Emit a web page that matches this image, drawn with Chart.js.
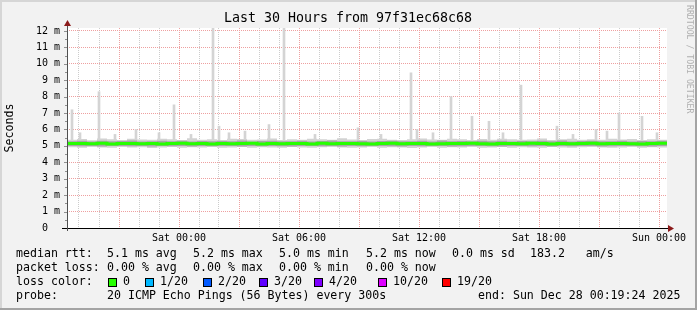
<!DOCTYPE html>
<html>
<head>
<meta charset="utf-8">
<script src="https://cdn.jsdelivr.net/npm/chart.js@4"></script>
<style>
  html, body { margin: 0; padding: 0; background: #f2f2f2; }
</style>
</head>
<body>
<canvas id="smoke-chart" width="697" height="310"></canvas>
<script>
const chartEl = document.getElementById('smoke-chart');

// x values are hours relative to Sat 00:00, one sample every 30 min
const startHour = -5.6;
const stepHours = 0.5;

// median rtt in ms
const medianRtt = [
    5.15, 5.14, 5.13, 5.16, 5.12, 5.15, 5.14, 5.13, 5.15, 5.12,
    5.14, 5.16, 5.13, 5.15, 5.12, 5.14, 5.13, 5.15, 5.16, 5.12,
    5.14, 5.13, 5.15, 5.14, 5.12, 5.16, 5.13, 5.14, 5.15, 5.13,
    5.12, 5.14, 5.16, 5.13, 5.15, 5.14, 5.12, 5.13, 5.15, 5.14,
    5.16, 5.13, 5.12, 5.15, 5.14, 5.13, 5.16, 5.14, 5.12, 5.15,
    5.13, 5.14, 5.16, 5.13, 5.15, 5.14, 5.13, 5.12, 5.15, 5.16, 5.17
];
// outer smoke (light grey)
const smokeHigh = [
    5.38, 5.42, 5.35, 5.45, 5.40, 5.36, 5.44, 5.39, 5.37, 5.43,
    5.41, 5.36, 5.46, 5.38, 5.40, 5.35, 5.44, 5.42, 5.37, 5.39,
    5.45, 5.36, 5.41, 5.38, 5.43, 5.40, 5.37, 5.46, 5.39, 5.35,
    5.42, 5.44, 5.38, 5.36, 5.41, 5.45, 5.39, 5.37, 5.43, 5.40,
    5.36, 5.42, 5.38, 5.44, 5.41, 5.37, 5.39, 5.45, 5.36, 5.40,
    5.43, 5.38, 5.41, 5.37, 5.44, 5.39, 5.42, 5.36, 5.40, 5.38, 5.41
];
const smokeLow = [
    4.92, 4.89, 4.94, 4.91, 4.88, 4.93, 4.90, 4.92, 4.87, 4.91,
    4.93, 4.89, 4.92, 4.90, 4.94, 4.88, 4.91, 4.93, 4.89, 4.92,
    4.90, 4.88, 4.93, 4.91, 4.89, 4.92, 4.94, 4.90, 4.88, 4.91,
    4.93, 4.89, 4.92, 4.90, 4.87, 4.91, 4.93, 4.89, 4.92, 4.90,
    4.94, 4.88, 4.91, 4.93, 4.89, 4.92, 4.90, 4.88, 4.93, 4.91,
    4.89, 4.92, 4.94, 4.90, 4.88, 4.91, 4.93, 4.89, 4.92, 4.90, 4.93
];
// inner smoke (darker grey)
const coreHigh = [
    5.29, 5.31, 5.27, 5.32, 5.28, 5.30, 5.33, 5.27, 5.29, 5.31,
    5.28, 5.32, 5.27, 5.30, 5.29, 5.31, 5.28, 5.33, 5.27, 5.30,
    5.32, 5.28, 5.29, 5.31, 5.27, 5.30, 5.33, 5.28, 5.29, 5.31,
    5.27, 5.30, 5.32, 5.28, 5.29, 5.31, 5.27, 5.33, 5.28, 5.30,
    5.29, 5.31, 5.28, 5.32, 5.27, 5.30, 5.29, 5.31, 5.28, 5.33,
    5.27, 5.30, 5.32, 5.28, 5.29, 5.31, 5.27, 5.30, 5.29, 5.31, 5.28
];
const coreLow = [
    4.99, 4.98, 5.00, 4.97, 4.99, 5.00, 4.98, 4.99, 4.97, 5.00,
    4.98, 4.99, 4.97, 5.00, 4.98, 4.99, 5.00, 4.97, 4.99, 4.98,
    5.00, 4.98, 4.97, 4.99, 5.00, 4.98, 4.99, 4.97, 5.00, 4.98,
    4.99, 5.00, 4.98, 4.97, 4.99, 4.98, 5.00, 4.99, 4.97, 4.98,
    5.00, 4.99, 4.98, 4.97, 5.00, 4.99, 4.98, 5.00, 4.97, 4.99,
    4.98, 5.00, 4.99, 4.97, 4.98, 5.00, 4.99, 4.98, 4.97, 4.99, 5.00
];

// single ping spikes: hour and top in ms
const spikeHours = [-5.35, -4.95, -4.0, -3.2, -2.15, -1.0, -0.25, 0.6, 1.7, 2.0, 2.5, 3.3, 4.5, 5.25, 6.8, 8.95,
    10.1, 11.6, 11.9, 12.7, 13.6, 14.65, 15.5, 16.2, 17.1, 18.9, 19.7, 20.85, 21.4, 22.0, 23.15, 23.9];
const spikeTops = [7.2, 5.8, 8.3, 5.7, 6.0, 5.8, 7.5, 5.7, 12.3, 6.2, 5.8, 5.9, 6.3, 12.3, 5.7, 6.1,
    5.7, 9.45, 6.0, 5.8, 8.0, 6.8, 6.5, 5.8, 8.7, 6.2, 5.7, 6.0, 5.9, 7.0, 6.8, 5.8];
const spikeBase = 5.3;

const dayLabels = { 0: 'Sat 00:00', 6: 'Sat 06:00', 12: 'Sat 12:00', 18: 'Sat 18:00', 24: 'Sun 00:00' };
const hourTicks = [];
for (let h = -5; h <= 24; h++) hourTicks.push(h);
const msTicks = [];
for (let v = 0; v <= 12; v += 0.5) msTicks.push(v);

const titleText = 'Last 30 Hours from 97f31ec68c68';
const rttStats = ['5.1 ms avg', '5.2 ms max', '5.0 ms min', '5.2 ms now', '0.0 ms sd', '183.2   am/s'];
const lossStats = ['0.00 % avg', '0.00 % max', '0.00 % min', '0.00 % now'];
const lossLabels = ['0', '1/20', '2/20', '3/20', '4/20', '10/20', '19/20'];
const lossColors = ['#26ff00', '#00b8ff', '#0059ff', '#5e00ff', '#7e00ff', '#dd00ff', '#ff0000'];
const probeText = '20 ICMP Echo Pings (56 Bytes) every 300s';
const endText = 'end: Sun Dec 28 00:19:24 2025';

const sampleHours = medianRtt.map((_, i) => startHour + i * stepHours);
const toPoints = arr => arr.map((v, i) => ({ x: sampleHours[i], y: v }));

const MONO = '"DejaVu Sans Mono", monospace';
const RED_GRID = '#eea0a0';
const GREY_GRID = '#cccccc';

const rrdFrame = {
    id: 'rrdFrame',
    beforeDraw(chart) {
        const ctx = chart.ctx;
        const a = chart.chartArea;
        ctx.save();
        ctx.fillStyle = '#f2f2f2';
        ctx.fillRect(0, 0, chart.width, chart.height);
        // 3d border
        ctx.fillStyle = '#d6d6d6';
        ctx.fillRect(0, 0, chart.width, 2);
        ctx.fillRect(0, 0, 2, chart.height);
        ctx.fillStyle = '#a4a4a4';
        ctx.fillRect(0, chart.height - 2, chart.width, 2);
        ctx.fillRect(chart.width - 2, 0, 2, chart.height);
        ctx.fillStyle = '#ffffff';
        ctx.fillRect(a.left, a.top, a.right - a.left, a.bottom - a.top);
        ctx.restore();
    },
    afterDraw(chart) {
        const ctx = chart.ctx;
        const a = chart.chartArea;
        const ys = chart.scales.y;
        ctx.save();
        // title
        ctx.font = '13.3px ' + MONO;
        ctx.fillStyle = '#000';
        ctx.textAlign = 'center';
        ctx.textBaseline = 'middle';
        ctx.fillText(titleText, 348, 19);
        // y axis ticks on the left
        ctx.strokeStyle = '#909090';
        ctx.lineWidth = 1;
        msTicks.forEach(v => {
            const y = Math.round(ys.getPixelForValue(v)) + 0.5;
            const len = Number.isInteger(v) ? 3 : 2;
            ctx.beginPath();
            ctx.moveTo(a.left - len, y);
            ctx.lineTo(a.left, y);
            ctx.stroke();
        });
        // axes
        ctx.strokeStyle = '#000';
        ctx.beginPath();
        ctx.moveTo(a.left - 5, a.bottom + 0.5);
        ctx.lineTo(a.right + 3, a.bottom + 0.5);
        ctx.stroke();
        ctx.strokeStyle = '#505050';
        ctx.beginPath();
        ctx.moveTo(a.left + 0.5, a.bottom + 3);
        ctx.lineTo(a.left + 0.5, a.top - 4);
        ctx.stroke();
        // arrows
        ctx.fillStyle = '#8b1a1a';
        ctx.beginPath();
        ctx.moveTo(a.right + 1, a.bottom - 3);
        ctx.lineTo(a.right + 7, a.bottom + 0.5);
        ctx.lineTo(a.right + 1, a.bottom + 4);
        ctx.closePath();
        ctx.fill();
        ctx.beginPath();
        ctx.moveTo(a.left - 3, a.top - 2);
        ctx.lineTo(a.left + 0.5, a.top - 8);
        ctx.lineTo(a.left + 4, a.top - 2);
        ctx.closePath();
        ctx.fill();

        // legend block
        ctx.font = '11.6px ' + MONO;
        ctx.textBaseline = 'middle';
        ctx.textAlign = 'left';
        ctx.fillStyle = '#000';
        const rttX = [107, 193, 279, 366, 452, 530];
        ctx.fillText('median rtt:', 16, 254);
        rttStats.forEach((s, i) => ctx.fillText(s, rttX[i], 254));
        ctx.fillText('packet loss:', 16, 268);
        lossStats.forEach((s, i) => ctx.fillText(s, rttX[i], 268));
        ctx.fillText('loss color:', 16, 282);
        const boxX = [108, 145, 203, 259, 314, 378, 442];
        lossLabels.forEach((s, i) => {
            ctx.fillStyle = lossColors[i];
            ctx.fillRect(boxX[i], 278, 9, 9);
            ctx.strokeStyle = '#000';
            ctx.strokeRect(boxX[i] + 0.5, 278.5, 8, 8);
            ctx.fillStyle = '#000';
            ctx.fillText(s, boxX[i] + 15, 282);
        });
        ctx.fillText('probe:', 16, 296);
        ctx.fillText(probeText, 107, 296);
        ctx.fillText(endText, 478, 296);

        // watermark on the right
        ctx.translate(685, 5);
        ctx.rotate(Math.PI / 2);
        ctx.font = '8.2px ' + MONO;
        ctx.fillStyle = '#b0b0b0';
        ctx.textBaseline = 'bottom';
        ctx.fillText('RRDTOOL / TOBI OETIKER', 0, 0);
        ctx.restore();
    }
};

new Chart(chartEl, {
    type: 'line',
    data: {
        datasets: [
            {
                label: 'median',
                data: toPoints(medianRtt),
                borderColor: lossColors[0],
                borderWidth: 3,
                stepped: true,
                pointRadius: 0,
                fill: false,
                order: 0
            },
            {
                label: 'core high',
                data: toPoints(coreHigh),
                borderWidth: 0,
                pointRadius: 0,
                stepped: true,
                backgroundColor: '#a6a6a6',
                fill: '+1',
                order: 1
            },
            {
                label: 'core low',
                data: toPoints(coreLow),
                borderWidth: 0,
                pointRadius: 0,
                stepped: true,
                fill: false,
                order: 1
            },
            {
                type: 'bar',
                label: 'spikes',
                data: spikeHours.map((h, i) => ({ x: h, y: [spikeBase, spikeTops[i]] })),
                backgroundColor: '#d4d4d4',
                borderWidth: 0,
                barThickness: 2,
                order: 2
            },
            {
                label: 'smoke high',
                data: toPoints(smokeHigh),
                borderWidth: 0,
                pointRadius: 0,
                stepped: true,
                backgroundColor: '#d2d2d2',
                fill: '+1',
                order: 3
            },
            {
                label: 'smoke low',
                data: toPoints(smokeLow),
                borderWidth: 0,
                pointRadius: 0,
                stepped: true,
                fill: false,
                order: 3
            }
        ]
    },
    options: {
        responsive: false,
        animation: false,
        layout: { padding: { left: 0, right: 30, top: 28, bottom: 0 } },
        plugins: {
            legend: { display: false },
            tooltip: { enabled: false },
            title: { display: false }
        },
        scales: {
            x: {
                type: 'linear',
                min: -5.6,
                max: 24.4,
                offset: false,
                afterFit: s => { s.height = 82; },
                afterBuildTicks: s => { s.ticks = hourTicks.map(v => ({ value: v })); },
                grid: {
                    offset: false,
                    drawTicks: false,
                    color: c => (c.tick && c.tick.value % 3 === 0) ? RED_GRID : GREY_GRID
                },
                border: { display: false, dash: [1, 1] },
                ticks: {
                    autoSkip: false,
                    maxRotation: 0,
                    padding: 4,
                    color: '#000',
                    font: { family: MONO, size: 10 },
                    callback: v => dayLabels[v] || ''
                }
            },
            y: {
                min: 0,
                max: 12.18,
                afterFit: s => { s.width = 67; },
                afterBuildTicks: s => { s.ticks = msTicks.map(v => ({ value: v })); },
                grid: {
                    drawTicks: false,
                    color: c => (c.tick && Number.isInteger(c.tick.value)) ? RED_GRID : GREY_GRID
                },
                border: { display: false, dash: [1, 1] },
                ticks: {
                    padding: 7,
                    color: '#000',
                    font: { family: MONO, size: 10 },
                    callback: v => Number.isInteger(v) ? (v === 0 ? '0  ' : v + ' m') : ''
                },
                title: {
                    display: true,
                    text: 'Seconds',
                    color: '#000',
                    font: { family: MONO, size: 11.6 },
                    padding: { top: 3, bottom: 0 }
                }
            }
        }
    },
    plugins: [rrdFrame]
});
</script>
</body>
</html>
